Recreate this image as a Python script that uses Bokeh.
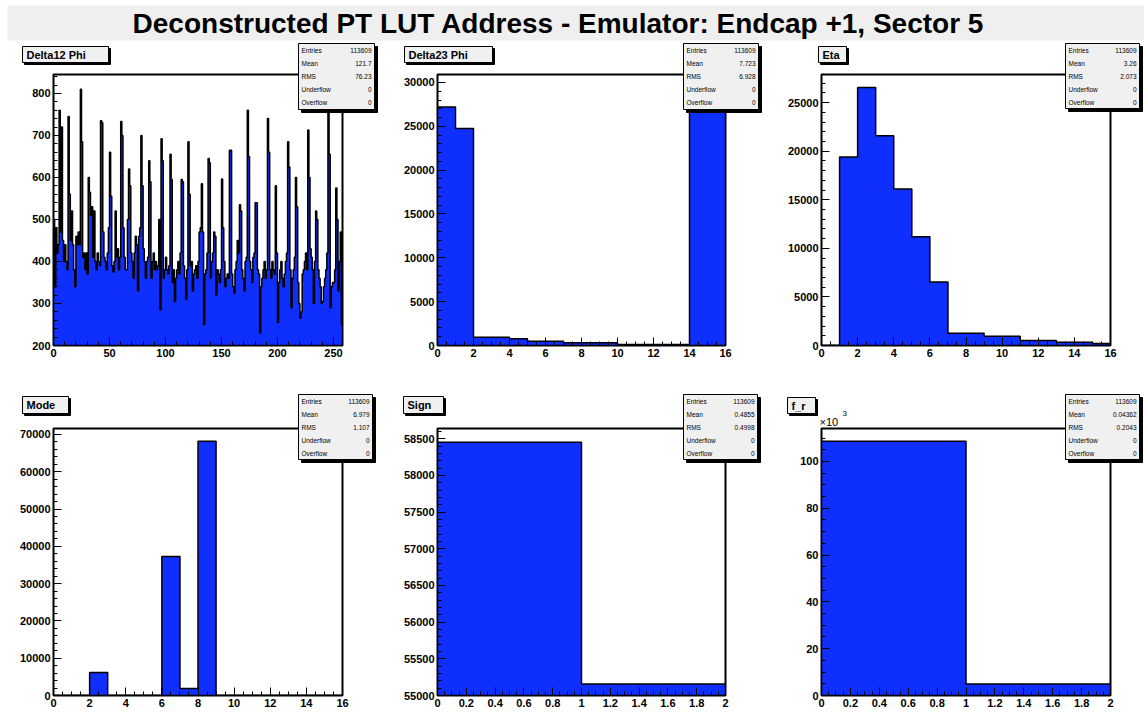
from bokeh.plotting import figure
from bokeh.models import (Range1d, SingleIntervalTicker, GridBox, Spacer, Column,
                          CustomJSTickFormatter)
from bokeh.core.properties import value
from bokeh.embed import file_html
from bokeh.resources import INLINE

# ---------------------------------------------------------------- data
title_text = "Deconstructed PT LUT Address - Emulator: Endcap +1, Sector 5"

stat_names = ["Entries", "Mean", "RMS", "Underflow", "Overflow"]

# Delta12 Phi: 258 unit bins starting at 0
d12_counts = [
    500, 340, 480, 420, 440, 760, 470, 720, 450, 400,
    440, 400, 380, 745, 560, 450, 520, 440, 380, 340,
    460, 440, 470, 440, 810, 685, 410, 420, 380, 420,
    370, 600, 565, 510, 530, 410, 520, 400, 380, 420,
    400, 390, 735, 730, 470, 410, 400, 380, 420, 480,
    660, 555, 390, 375, 400, 520, 410, 430, 380, 410,
    733, 700, 480, 410, 380, 380, 500, 620, 580, 420,
    400, 360, 420, 460, 440, 330, 460, 480, 700, 580,
    430, 400, 360, 400, 410, 640, 590, 360, 400, 420,
    380, 400, 380, 390, 500, 285, 692, 640, 360, 380,
    410, 380, 370, 390, 655, 595, 350, 380, 305, 360,
    380, 400, 370, 420, 595, 590, 390, 360, 310, 380,
    685, 560, 390, 400, 330, 370, 380, 390, 360, 400,
    470, 480, 585, 470, 250, 370, 380, 420, 645, 635,
    360, 400, 420, 470, 460, 320, 380, 370, 350, 380,
    596, 480, 400, 340, 360, 370, 360, 665, 665, 370,
    340, 325, 380, 400, 450, 420, 535, 520, 380, 360,
    330, 400, 410, 760, 650, 400, 380, 350, 410, 420,
    540, 540, 380, 370, 230, 340, 360, 380, 400, 360,
    380, 740, 660, 380, 360, 400, 380, 370, 580, 420,
    255, 350, 380, 400, 360, 340, 370, 400, 420, 685,
    625, 380, 290, 360, 380, 410, 600, 530, 350, 300,
    265, 280, 370, 380, 400, 420, 380, 713, 600, 430,
    410, 380, 300, 400, 520, 500, 380, 360, 340, 300,
    305, 340, 360, 380, 420, 755, 655, 290, 340, 350,
    350, 380, 575, 500, 330, 400, 470, 250,
]
d12_stats = ["113609", "121.7", "76.23", "0", "0"]

# Delta23 Phi: 16 unit bins on [0, 16)
d23_counts = [27190, 24740, 940, 940, 760, 490, 490, 300,
              300, 300, 110, 110, 110, 110, 27282, 29437]
d23_stats = ["113609", "7.723", "6.928", "0", "0"]

# Eta: 16 unit bins on [0, 16)
eta_counts = [0, 19400, 26560, 21600, 16100, 11200, 6550, 1250,
              1250, 950, 950, 520, 520, 330, 330, 200]
eta_stats = ["113609", "3.26", "2.073", "0", "0"]

# Mode: 16 unit bins on [0, 16)
mode_counts = [0, 0, 6200, 0, 0, 0, 37300, 1900,
               68209, 0, 0, 0, 0, 0, 0, 0]
mode_stats = ["113609", "6.979", "1.107", "0", "0"]

# Sign and f_r: 2 unit bins on [0, 2)
sign_counts = [58452, 55157]
sign_stats = ["113609", "0.4855", "0.4998", "0", "0"]

fr_counts = [108653, 4956]
fr_stats = ["113609", "0.04362", "0.2043", "0", "0"]

# ---------------------------------------------------------------- style
BLUE = "#0f2fff"
BOX_FILL = "#f0f0f0"
FONT = "Liberation Sans"


def histo(counts, x0, x1, y0, y1, cell, fr, xstep, xminor, ystep, yminor, xfmt=False):
    cx0, cy0, cx1, cy1 = cell
    L, R, T, B = fr
    p = figure(width=cx1 - cx0, height=cy1 - cy0,
               min_border_left=L - cx0, min_border_right=cx1 - R,
               min_border_top=T - cy0, min_border_bottom=cy1 - B,
               x_range=Range1d(x0, x1), y_range=Range1d(y0, y1),
               output_backend="svg", toolbar_location=None,
               background_fill_color="white", border_fill_color="white")
    p.grid.visible = False
    p.outline_line_color = "black"
    p.outline_line_width = 2

    n = len(counts)
    edges = [x0 + i * (x1 - x0) / n for i in range(n + 1)]
    if n == len(d12_counts):
        edges = list(range(n + 1))
    # filled histogram outline as one step polygon
    xs, ys = [edges[0]], [y0]
    for i, c in enumerate(counts):
        xs += [edges[i], edges[i + 1]]
        ys += [c, c]
    xs.append(edges[-1])
    ys.append(y0)
    p.patch(xs, ys, fill_color=BLUE, line_color="black", line_width=1.5)

    for ax in (p.xaxis[0], p.yaxis[0]):
        ax.axis_line_color = "black"
        ax.axis_line_width = 1
        ax.major_tick_in = 8
        ax.major_tick_out = 0
        ax.minor_tick_in = 4
        ax.minor_tick_out = 0
        ax.major_tick_line_color = "black"
        ax.minor_tick_line_color = "black"
        ax.major_label_text_font = FONT
        ax.major_label_text_font_style = "bold"
        ax.major_label_text_font_size = "11px"
        ax.major_label_text_color = "black"
        ax.major_label_standoff = 3
    p.xaxis[0].ticker = SingleIntervalTicker(interval=xstep, num_minor_ticks=xminor)
    p.yaxis[0].ticker = SingleIntervalTicker(interval=ystep, num_minor_ticks=yminor)
    if xfmt:
        p.xaxis[0].formatter = CustomJSTickFormatter(
            code="return String(parseFloat(tick.toFixed(2)));")
    return p


# ---------------------------------------------------------------- panels
head = Spacer(width=1144, height=42)

p1 = histo(d12_counts, 0, 258, 200, 845, (0, 42, 381, 378), (52, 342, 74, 346), 50, 5, 100, 5)
p2 = histo(d23_counts, 0, 16, 0, 30909, (381, 42, 762, 378), (437, 725, 74, 346), 2, 4, 5000, 5)
p3 = histo(eta_counts, 0, 16, 0, 27900, (762, 42, 1144, 378), (819, 1110, 74, 345), 2, 4, 5000, 5)
p4 = histo(mode_counts, 0, 16, 0, 71600, (0, 378, 381, 713), (53, 343, 427, 695), 2, 4, 10000, 5)
p5 = histo(sign_counts, 0, 2, 55000, 58640, (381, 378, 762, 713), (437, 725, 427, 695),
           0.2, 4, 500, 5, xfmt=True)
p6 = histo(fr_counts, 0, 2, 0, 114086, (762, 378, 1144, 713), (821, 1110, 428, 695),
           0.2, 4, 20000, 4, xfmt=True)
# f_r y axis shown in units of 10^3
p6.yaxis[0].major_label_overrides = {v: str(v // 1000) for v in range(0, 120000, 20000)}

# ---------------------------------------------------------------- overlay: title, tags, stat boxes
name_tags = ["Delta12 Phi", "Delta23 Phi", "Eta", "Mode", "Sign", "f_r"]
tag_boxes = [(22, 46, 108, 62), (404, 46, 492, 62), (818, 46, 846, 62),
             (22, 396, 68, 413), (403, 396, 443, 413), (787, 397, 815, 413)]
stat_values = [d12_stats, d23_stats, eta_stats, mode_stats, sign_stats, fr_stats]
stat_boxes = [(298, 43, 374, 109), (683, 43, 758, 109), (1065, 43, 1139, 108),
              (298, 394, 372, 459), (683, 394, 757, 459), (1065, 394, 1139, 459)]

ov = figure(width=1144, height=713, x_range=Range1d(0, 1144), y_range=Range1d(713, 0),
            min_border=0, x_axis_type=None, y_axis_type=None,
            output_backend="svg", toolbar_location=None,
            background_fill_alpha=0, border_fill_alpha=0)
ov.grid.visible = False
ov.outline_line_color = None

# title band
ov.quad(left=[7], right=[1144], top=[5], bottom=[40], fill_color="#efefef", line_color=None)
ov.text(x=[558], y=[23], text=[title_text], text_font=value(FONT), text_font_style="bold",
        text_font_size="28px", text_baseline="middle", text_align="center")

boxes = tag_boxes + stat_boxes
shadow = [2] * len(tag_boxes) + [3] * len(stat_boxes)
ov.quad(left=[b[0] + s for b, s in zip(boxes, shadow)],
        right=[b[2] + s for b, s in zip(boxes, shadow)],
        top=[b[1] + s for b, s in zip(boxes, shadow)],
        bottom=[b[3] + s for b, s in zip(boxes, shadow)],
        fill_color="black", line_color="black")
ov.quad(left=[b[0] for b in boxes], right=[b[2] for b in boxes],
        top=[b[1] for b in boxes], bottom=[b[3] for b in boxes],
        fill_color=BOX_FILL, line_color="black", line_width=1)

ov.text(x=[b[0] + 4 for b in tag_boxes], y=[(b[1] + b[3]) / 2 for b in tag_boxes],
        text=name_tags, text_font=value(FONT), text_font_style="bold",
        text_font_size="11px", text_baseline="middle", text_align="left")

lx, ly, lt, rx, rt = [], [], [], [], []
for b, vals in zip(stat_boxes, stat_values):
    h = (b[3] - b[1]) / len(stat_names)
    for k, (name, val) in enumerate(zip(stat_names, vals)):
        yy = b[1] + h * (k + 0.5)
        lx.append(b[0] + 3)
        ly.append(yy)
        lt.append(name)
        rx.append(b[2] - 3)
        rt.append(val)
ov.text(x=lx, y=ly, text=lt, text_font=value(FONT), text_font_size="6.5px",
        text_baseline="middle", text_align="left")
ov.text(x=rx, y=ly, text=rt, text_font=value(FONT), text_font_size="6.5px",
        text_baseline="middle", text_align="right")

# exponent marker of the f_r y axis
ov.text(x=[819], y=[421], text=["×10"], text_font=value(FONT), text_font_size="11px",
        text_baseline="middle", text_align="left")
ov.text(x=[842], y=[413], text=["3"], text_font=value(FONT), text_font_size="8px",
        text_baseline="middle", text_align="left")

# the overlay sits in its own column so that its frame is not aligned with the panels
layout = GridBox(children=[
    (head, 0, 0, 1, 3),
    (p1, 1, 0), (p2, 1, 1), (p3, 1, 2),
    (p4, 2, 0), (p5, 2, 1), (p6, 2, 2),
    (Column(children=[ov]), 0, 0, 3, 3),
])
open("out.html", "w").write(file_html(layout, INLINE))
